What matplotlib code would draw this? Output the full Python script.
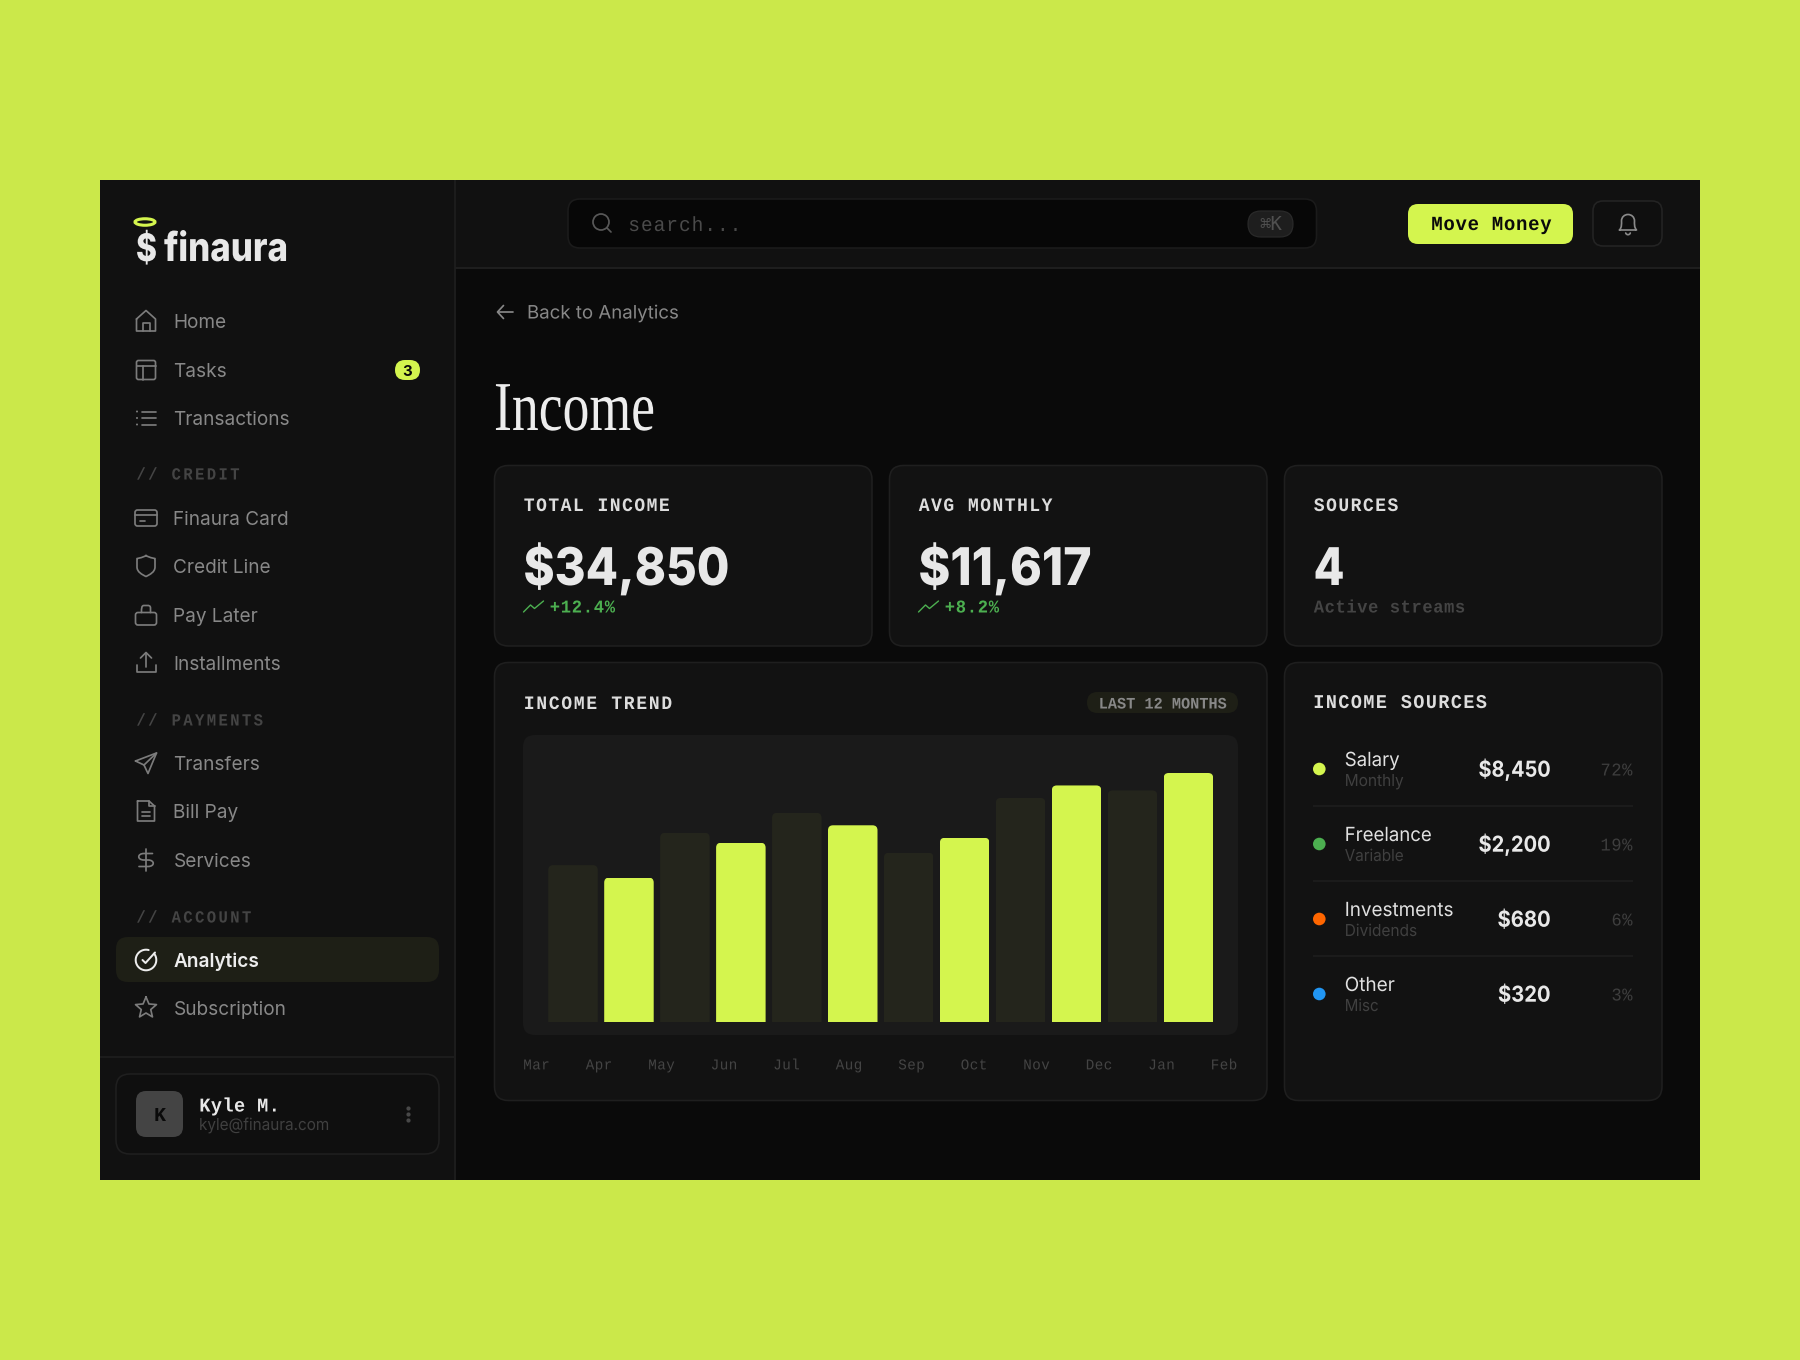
import numpy as np
import matplotlib
matplotlib.use("Agg")
import matplotlib.pyplot as plt
from matplotlib.patches import FancyBboxPatch, Circle, Ellipse, PathPatch
from matplotlib.patches import BoxStyle
from matplotlib.path import Path
from matplotlib.patheffects import AbstractPathEffect
from matplotlib.transforms import Affine2D

# ---------- data ----------
months = ["Mar", "Apr", "May", "Jun", "Jul", "Aug", "Sep", "Oct", "Nov", "Dec", "Jan", "Feb"]
bar_values = [63, 58, 76, 72, 84, 79, 68, 74, 90, 95, 93, 100]
bar_highlight = [0, 1, 0, 1, 0, 1, 0, 1, 0, 1, 0, 1]

stat_labels = ["TOTAL INCOME", "AVG MONTHLY", "SOURCES"]
stat_values = ["$34,850", "$11,617", "4"]
stat_notes = ["+12.4%", "+8.2%", "Active streams"]

source_names = ["Salary", "Freelance", "Investments", "Other"]
source_kinds = ["Monthly", "Variable", "Dividends", "Misc"]
source_amounts = ["$8,450", "$2,200", "$680", "$320"]
source_shares = ["72%", "19%", "6%", "3%"]
source_colors = ["#D4F54E", "#4CAF50", "#FF6600", "#2196F3"]

nav_main = ["Home", "Tasks", "Transactions"]
nav_credit = ["Finaura Card", "Credit Line", "Pay Later", "Installments"]
nav_payments = ["Transfers", "Bill Pay", "Services"]
nav_account = ["Analytics", "Subscription"]

# ---------- palette ----------
LIME_BG = "#CBE84A"
LIME = "#D4F54E"
SIDE = "#111111"
MAIN = "#0A0A0A"
CARD = "#121212"
EDGE = "#1F1F1F"
GREY = "#888888"
DIM = "#444444"
WHITE = "#E8E8E8"
MONO = "Liberation Mono"
SANS = "Inter"

fig = plt.figure(figsize=(18, 13.6), dpi=100, facecolor=LIME_BG)
ax = fig.add_axes([0, 0, 1, 1])
ax.set_xlim(0, 1800)
ax.set_ylim(1360, 0)
ax.axis("off")
renderer = fig.canvas.get_renderer()


class Squeeze(AbstractPathEffect):
    """Horizontal fit of a proportional string around its anchor."""

    def __init__(self, sx, x0):
        self.sx, self.x0 = sx, x0

    def draw_path(self, rend, gc, tpath, affine, rgbFace=None):
        aff = affine + Affine2D().translate(-self.x0, 0).scale(self.sx, 1).translate(self.x0, 0)
        rend.draw_path(gc, tpath, aff, rgbFace)


class Track(AbstractPathEffect):
    """Letter spacing for a monospaced string: glyph cells are 60 units wide."""

    def __init__(self, extra=0.0, glyph=1.0):
        self.extra, self.glyph = extra, glyph

    def draw_path(self, rend, gc, tpath, affine, rgbFace=None):
        v = np.array(tpath.vertices, float)
        starts = np.flatnonzero(np.asarray(tpath.codes) == Path.MOVETO)
        ends = np.append(starts[1:], len(v))
        for a, b in zip(starts, ends):
            cell = np.floor(v[a:b, 0].mean() / 60.02)
            mid = (cell + 0.5) * 60.02
            v[a:b, 0] = (v[a:b, 0] - mid) * self.glyph + mid + cell * self.extra
        rend.draw_path(gc, Path(v, tpath.codes), affine, rgbFace)


def T(x, y, s, px, color, family=SANS, weight=400, ha="left", va="baseline", w=None, z=5, glyph=0.95):
    t = ax.text(x, y, s, fontsize=px * 0.72, color=color, family=family, weight=weight,
                ha=ha, va=va, zorder=z)
    if w is not None:
        if family == MONO:
            extra = ((w / len(s)) / px - 0.6) * 100
            t.set_path_effects([Track(extra, glyph)])
        else:
            ext = t.get_window_extent(renderer)
            t.set_path_effects([Squeeze(w / ext.width, x)])
    return t


def box(x0, y0, x1, y1, r, fc, ec="none", lw=0, z=1):
    p = FancyBboxPatch((x0, y0), x1 - x0, y1 - y0,
                       boxstyle=BoxStyle.Round(pad=0, rounding_size=r),
                       fc=fc, ec=ec, lw=lw * 0.72, zorder=z)
    ax.add_patch(p)
    return p


def stroke(cx, cy, pts, color, lw=1.7, closed=False):
    pts = np.asarray(pts, float)
    xs, ys = cx + pts[:, 0], cy + pts[:, 1]
    if closed:
        xs, ys = np.append(xs, xs[0]), np.append(ys, ys[0])
    ax.plot(xs, ys, color=color, lw=lw * 0.72, solid_capstyle="round", solid_joinstyle="round", zorder=6)


def curve(cx, cy, verts, codes, color, lw=1.7):
    v = np.asarray(verts, float) + [cx, cy]
    ax.add_patch(PathPatch(Path(v, codes), fc="none", ec=color, lw=lw * 0.72, zorder=6,
                           capstyle="round", joinstyle="round"))


def rule(xs, ys, color, lw=1.4, z=0.7):
    ax.plot(xs, ys, color=color, lw=lw, zorder=z, solid_capstyle="butt")


M, L, C = Path.MOVETO, Path.LINETO, Path.CURVE4


def i_home(x, y, c):
    stroke(x, y, [(-9.5, -2), (0, -10.5), (9.5, -2), (9.5, 10), (-9.5, 10)], c, closed=True)
    stroke(x, y, [(-3.5, 10), (-3.5, 2), (3.5, 2), (3.5, 10)], c)


def i_tasks(x, y, c):
    box(x - 9.5, y - 9.5, x + 9.5, y + 9.5, 2, "none", c, 1.7, z=6)
    stroke(x, y, [(-9.5, -4), (9.5, -4)], c)
    stroke(x, y, [(-3, -4), (-3, 9.5)], c)


def i_list(x, y, c):
    for yy in (-6.5, 0, 6.5):
        stroke(x, y, [(-4, yy), (9.5, yy)], c)
        ax.add_patch(Circle((x - 9, y + yy), 1.0, fc=c, ec="none", zorder=6))


def i_card(x, y, c):
    box(x - 11, y - 8, x + 11, y + 8, 2.5, "none", c, 1.7, z=6)
    stroke(x, y, [(-11, -3), (11, -3)], c)
    stroke(x, y, [(-6, 3), (-1, 3)], c)


def i_shield(x, y, c):
    curve(x, y, [(0, -10.5), (4, -8), (9, -7.5), (9, -7.5), (9, -7.5), (9, 1), (9, 1),
                 (9, 6), (4, 8.5), (0, 10.5), (-4, 8.5), (-9, 6), (-9, 1), (-9, 1), (-9, -7.5), (-9, -7.5),
                 (-9, -7.5), (-4, -8), (0, -10.5)],
          [M, C, C, C, C, C, C, C, C, C, C, C, C, C, C, C, C, C, C], c)


def i_bag(x, y, c):
    box(x - 10.5, y - 2.5, x + 10.5, y + 10, 2.5, "none", c, 1.7, z=6)
    curve(x, y, [(-4.5, -2.5), (-4.5, -7), (-4.5, -9.5), (-2, -9.5), (0, -9.5), (2, -9.5), (2.5, -9.5),
                 (4.5, -9.5), (4.5, -7), (4.5, -2.5)], [M, C, C, C, L, L, C, C, C, L], c)


def i_upload(x, y, c):
    stroke(x, y, [(-9.5, 2), (-9.5, 9), (9.5, 9), (9.5, 2)], c)
    stroke(x, y, [(0, 4), (0, -10)], c)
    stroke(x, y, [(-5.5, -5), (0, -10.5), (5.5, -5)], c)


def i_send(x, y, c):
    stroke(x, y, [(-10.5, -2), (10.5, -10), (2, 10.5), (-2, 2)], c, closed=True)
    stroke(x, y, [(-2, 2), (10.5, -10)], c)


def i_doc(x, y, c):
    stroke(x, y, [(-8.5, -10), (3, -10), (8.5, -5), (8.5, 10), (-8.5, 10)], c, closed=True)
    stroke(x, y, [(3, -10), (3, -5), (8.5, -5)], c)
    stroke(x, y, [(-4, 1), (4, 1)], c)
    stroke(x, y, [(-4, 5), (4, 5)], c)


def i_dollar(x, y, c):
    stroke(x, y, [(0, -11), (0, 11)], c)
    curve(x, y, [(6.5, -6.5), (-2, -6.5), (-9, -6.5), (-9, 0), (-2, 0), (2, 0), (9, 0), (9, 6.5), (2, 6.5), (-7, 6.5)],
          [M, L, C, C, C, L, C, C, C, L], c)


def i_check(x, y, c):
    th = np.radians(np.linspace(-38, 285, 60))
    stroke(x, y, np.c_[10.3 * np.cos(th), 10.3 * np.sin(th)], c, lw=2)
    stroke(x, y, [(-3.5, 0), (-0.5, 3), (9, -7.5)], c, lw=2)


def i_star(x, y, c):
    th = np.radians(np.arange(10) * 36 - 90)
    rad = np.where(np.arange(10) % 2 == 0, 11, 5)
    stroke(x, y, np.c_[rad * np.cos(th), rad * np.sin(th)], c, closed=True)


# ---------- shell ----------
box(100, 180, 1700, 1180, 0.01, MAIN, z=0.5)
ax.fill_between([100, 455], 180, 1180, color=SIDE, lw=0, zorder=0.6)
ax.fill_between([455, 1700], 180, 268, color=SIDE, lw=0, zorder=0.6)
rule([455, 455], [180, 1180], "#1D1D1D")
rule([455, 1700], [268, 268], "#1F1F1F")
rule([100, 455], [1057, 1057], "#1D1D1D")

# ---------- logo ----------
ax.add_patch(Ellipse((145, 222), 20, 6.5, fc="none", ec=LIME, lw=2.2, zorder=5))
T(136, 261, "$", 38, WHITE, weight=800, w=21)
T(164, 261, "finaura", 40, WHITE, weight=800, w=124)

# ---------- nav ----------
nav_rows = [(nav_main, [321, 370, 418], [i_home, i_tasks, i_list]),
            (nav_credit, [518, 566, 615, 663], [i_card, i_shield, i_bag, i_upload]),
            (nav_payments, [763, 811, 860], [i_send, i_doc, i_dollar]),
            (nav_account, [960, 1008], [i_check, i_star])]
box(116, 937, 439, 982, 12, "#1E1F16", z=1)
for labels, ys, icons in nav_rows:
    for lab, y, ic in zip(labels, ys, icons):
        active = lab == "Analytics"
        col = "#EDEDED" if active else GREY
        ic(146, y, col if active else "#7C7C7C")
        T(173.4, y + 6.8, lab, 19, col, weight=600 if active else 400)

for lab, y in (("// CREDIT", 474), ("// PAYMENTS", 720), ("// ACCOUNT", 917)):
    T(136, y + 5.5, lab, 17, "#444444", MONO, 700, w=11.72 * len(lab), glyph=0.92)

box(395, 360, 420, 380, 10, LIME, z=3)
T(407.5, 376, "3", 15, "#0A0A0A", weight=700, ha="center")

# ---------- user card ----------
box(116, 1074, 439, 1154, 14, "#0F0F0F", "#1F1F1F", 1.6, z=1)
box(136, 1091, 183, 1137, 10, "#444444", z=2)
T(159.5, 1121, "K", 20, "#0A0A0A", MONO, 700, ha="center")
T(199, 1111.5, "Kyle M.", 19.5, WHITE, MONO, 700, w=81)
T(199, 1130, "kyle@finaura.com", 16.5, "#404040", w=130)
for yy in (1108.5, 1114.5, 1120.5):
    ax.add_patch(Circle((408.5, yy), 2.1, fc="#484848", ec="none", zorder=4))

# ---------- top bar ----------
box(568, 199, 1316.5, 248, 12, "#070707", "#1B1B1B", 1.6, z=1)
ax.add_patch(Circle((601, 222), 8, fc="none", ec="#585858", lw=1.25, zorder=6))
stroke(601, 222, [(5.8, 5.8), (10, 10)], "#585858")
T(628, 231, "search...", 20.5, "#4A4A4A", MONO, w=114)
box(1248, 211, 1293, 237, 13, "#1E1E1E", "#2A2A2A", 1.2, z=2)
T(1270.5, 230, "⌘K", 19, "#505050", "DejaVu Sans Mono", 400, ha="center")
box(1408, 204, 1573, 244, 10, LIME, z=2)
T(1431, 230, "Move Money", 20, "#0A0A0A", MONO, 700, w=121)
box(1593, 201, 1662, 246, 10, "#0F0F0F", "#242424", 1.6, z=1)
curve(1628, 224, [(-8.5, 6), (-6, 3), (-6.5, 0), (-6.5, -3), (-6.5, -7), (-3.5, -9.5), (0, -9.5),
                  (3.5, -9.5), (6.5, -7), (6.5, -3), (6.5, 0), (6, 3), (8.5, 6), (-8.5, 6)],
      [M, C, C, C, C, C, C, C, C, C, C, C, C, L], "#8A8A8A", 1.7)
curve(1628, 224, [(-2.3, 9), (-1.5, 11.3), (1.5, 11.3), (2.3, 9)], [M, C, C, C], "#8A8A8A", 1.7)

# ---------- heading ----------
stroke(505, 312, [(8, 0), (-7.5, 0)], GREY)
stroke(505, 312, [(-1.5, -6.5), (-7.5, 0), (-1.5, 6.5)], GREY)
T(527, 318.5, "Back to Analytics", 18.5, GREY, w=152)
T(494, 430, "Income", 70, "#EDEDED", "Liberation Serif", w=161)

# ---------- stat cards ----------
card_spans = [(494, 872), (889, 1267), (1284, 1662)]
value_widths = [206, 173, 31]
note_widths = [66, 55, 152]
for i, (x0, x1) in enumerate(card_spans):
    box(x0 + 0.5, 465.5, x1, 646, 14, CARD, EDGE, 1.6, z=1)
    tx = x0 + 29.5
    T(tx, 511, stat_labels[i], 19, "#DDDDDD", MONO, 700, w=12.28 * len(stat_labels[i]))
    T(tx, 585, stat_values[i], 52, WHITE, weight=800, w=value_widths[i])
    if i < 2:
        stroke(tx, 600, [(0, 12), (7, 5), (11, 8.5), (20, 1)], "#4CAF50", lw=1.4)
        T(tx + 26, 612.5, stat_notes[i], 18, "#4CAF50", MONO, 700, w=note_widths[i])
    else:
        T(tx, 612.5, stat_notes[i], 18, "#444444", MONO, 700, w=note_widths[i])

# ---------- income trend card ----------
box(494.5, 662.5, 1267, 1100.5, 14, CARD, EDGE, 1.6, z=1)
T(523.5, 709, "INCOME TREND", 19, "#DDDDDD", MONO, 700, w=150)
box(1087, 692, 1238, 713, 10.5, "#1E1F16", z=2)
T(1098.5, 708.5, "LAST 12 MONTHS", 16, GREY, MONO, 700, w=128)
box(523, 735, 1238, 1035, 12, "#1A1A1A", z=2)

PX_X, PX_Y = 55.95, 2.49
chart = fig.add_axes([523 / 1800, 1 - 1022 / 1360, (1238 - 523) / 1800, (1022 - 735) / 1360])
chart.patch.set_visible(False)
chart.set_xlim((523 - 573) / PX_X, (1238 - 573) / PX_X)
chart.set_ylim(0, (1022 - 735) / PX_Y)
colors = [LIME if h else "#24251C" for h in bar_highlight]
bars = chart.bar(range(len(months)), bar_values, width=49.5 / PX_X, color=colors, lw=0)
rx = 5 / PX_X
for b in bars:
    clip = FancyBboxPatch((b.get_x(), -20), b.get_width(), b.get_height() + 20,
                          boxstyle=BoxStyle.Round(pad=0, rounding_size=rx),
                          mutation_aspect=(5 / PX_Y) / rx, transform=chart.transData)
    b.set_clip_path(clip)
chart.set_yticks([])
chart.set_xticks(np.linspace((536.5 - 573) / PX_X, (1224 - 573) / PX_X, len(months)), months)
chart.tick_params(axis="x", length=0, pad=26.2, labelsize=15 * 0.72, labelcolor="#444444")
for lab in chart.get_xticklabels():
    lab.set_family(MONO)
    lab.set_path_effects([Track(0, 0.95)])
for s in chart.spines.values():
    s.set_visible(False)

# ---------- income sources card ----------
box(1284.5, 662.5, 1662, 1100.5, 14, CARD, EDGE, 1.6, z=1)
T(1313, 708, "INCOME SOURCES", 19.5, "#DDDDDD", MONO, 700, w=175)
row_ys = [769, 844, 919, 994]
name_w = [55, 87, 109, 50]
kind_w = [59, 59, 72.5, 34]
amount_w = [72, 72, 53, 52.5]
for i, y in enumerate(row_ys):
    ax.add_patch(Circle((1319.3, y), 6.3, fc=source_colors[i], ec="none", zorder=4))
    T(1344.7, y - 3, source_names[i], 19.5, "#E0E0E0", w=name_w[i])
    T(1344.7, y + 17, source_kinds[i], 16.5, "#404040", w=kind_w[i])
    T(1550.5, y + 7.7, source_amounts[i], 22, WHITE, weight=700, ha="right", w=amount_w[i])
    share_w = 32.5 if len(source_shares[i]) == 3 else 21.5
    T(1632.7 - share_w, y + 6.5, source_shares[i], 18, "#3E3E3E", MONO, w=share_w)
    if i < 3:
        ax.plot([1313, 1633], [y + 37, y + 37], color="#1F1F1F", lw=1.1, zorder=3, solid_capstyle="butt")

fig.savefig("out.png", dpi=100, facecolor=LIME_BG)
